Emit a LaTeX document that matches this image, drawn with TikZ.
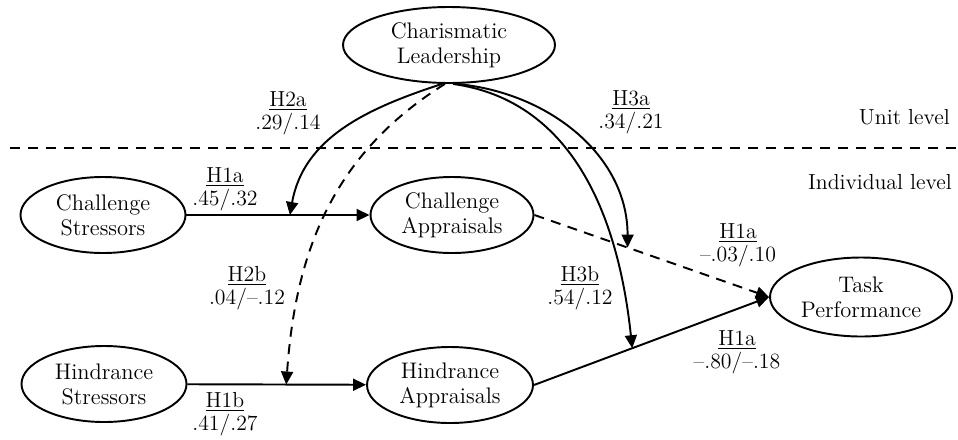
\documentclass[tikz,border=0pt]{standalone}
\usepackage{amsmath}
\usepackage{tikz}
\usetikzlibrary{arrows.meta}
\usetikzlibrary{shapes.geometric}

\begin{document}
\begin{tikzpicture}[>={Triangle[length=2.6mm,width=2.4mm]},x=0.2mm,y=-0.2mm,
        construct/.style={draw,ellipse,line width=1.1pt,minimum width=33mm,minimum height=15.2mm,
            inner sep=0pt,align=center,font=\fontsize{12.8}{14.2}\selectfont},
        coef/.style={inner sep=0pt,align=center,font=\fontsize{12.4}{13.2}\selectfont},
        link/.style={line width=1.1pt,->},
        dashlink/.style={link,dash pattern=on 2mm off 1.5mm}]
    \useasboundingbox (0,0) rectangle (958,439);
    % constructs
    \node[construct,minimum width=42.4mm] (cl) at (449,45) {Charismatic\\Leadership};
    \node[construct] (cs) at (103,215) {Challenge\\Stressors};
    \node[construct,minimum width=32.6mm] (ca) at (452,215) {Challenge\\Appraisals};
    \node[construct] (hs) at (104,384) {Hindrance\\Stressors};
    \node[construct,minimum width=33.2mm] (ha) at (450,385) {Hindrance\\Appraisals};
    \node[construct,minimum width=36.4mm,minimum height=15.8mm] (tp) at (861,297) {Task\\Performance};
    % levels
    \coordinate (lvla) at (10,148);
    \coordinate (lvlb) at (958,148);
    \draw[line width=0.9pt,dash pattern=on 2mm off 1.6mm] (lvla) -- (lvlb);
    \node[coef,anchor=east] (unit) at (950,117) {Unit level};
    \node[coef,anchor=east] (indiv) at (952,182) {Individual level};
    % direct paths
    \draw[link] (cs) -- coordinate[pos=0.565] (m2a) (ca);
    \draw[link] (hs) -- coordinate[pos=0.553] (m2b) (ha);
    \draw[dashlink] (ca.east) -- coordinate[pos=0.397] (m3a) (tp.west);
    \draw[link] (ha.east) -- coordinate[pos=0.418] (m3b) (tp.west);
    % cross-level moderation
    \draw[link] (cl.-100) to[out=198,in=80] (m2a);
    \draw[dashlink] (cl.-96) to[out=212,in=86] (m2b);
    \draw[link] (cl.-80) to[out=-5,in=90] (m3a);
    \draw[link] (cl.-84) to[out=-8,in=96] (m3b);
    % coefficients
    \node[coef] (c1a) at (225,189) {\underline{H1a}\\.45/.32};
    \node[coef] (c1b) at (225,414) {\underline{H1b}\\.41/.27};
    \node[coef] (c2a) at (288,113) {\underline{H2a}\\.29/.14};
    \node[coef] (c2b) at (247,288) {\underline{H2b}\\.04/--.12};
    \node[coef] (c3a) at (631,112) {\underline{H3a}\\.34/.21};
    \node[coef] (c3b) at (580,288) {\underline{H3b}\\.54/.12};
    \node[coef] (c1c) at (738,245) {\underline{H1a}\\--.03/.10};
    \node[coef] (c1d) at (737,352) {\underline{H1a}\\--.80/--.18};
\end{tikzpicture}
\end{document}
